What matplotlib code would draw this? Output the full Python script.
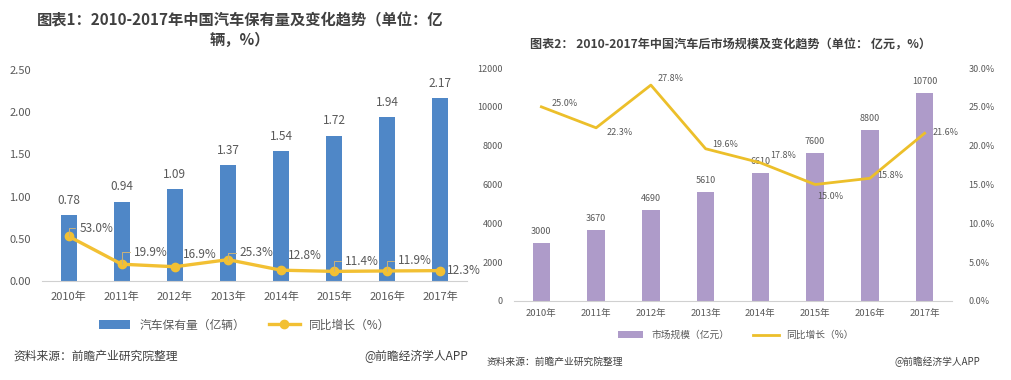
import numpy as np
import matplotlib
matplotlib.use("Agg")
import matplotlib.pyplot as plt

plt.rcParams["font.family"] = ["Noto Sans CJK SC", "DejaVu Sans"]

# ---------------------------------------------------------------------
# Data
# ---------------------------------------------------------------------
years = ["2010年", "2011年", "2012年", "2013年", "2014年", "2015年", "2016年", "2017年"]

# chart 1: vehicle stock (100 million) and growth (%)
stock = [0.78, 0.94, 1.09, 1.37, 1.54, 1.72, 1.94, 2.17]
stock_growth = [53.0, 19.9, 16.9, 25.3, 12.8, 11.4, 11.9, 12.3]
stock_ticks = [0.0, 0.5, 1.0, 1.5, 2.0, 2.5]

# chart 2: aftermarket size (100 million yuan) and growth (%)
market = [3000, 3670, 4690, 5610, 6610, 7600, 8800, 10700]
market_growth = [25.0, 22.3, 27.8, 19.6, 17.8, 15.0, 15.8, 21.6]
market_ticks = [0, 2000, 4000, 6000, 8000, 10000, 12000]
pct_ticks = [0, 5, 10, 15, 20, 25, 30]

W, H = 1012, 380
fig = plt.figure(figsize=(W / 100, H / 100), dpi=100)
fig.patch.set_facecolor("white")

GRAY = "#595959"
BLUE = "#4f87c7"
YELLOW = "#f2c033"
PURPLE = "#ae9bc9"
GOLD = "#ecbf2a"


def box(x0, y0, x1, y1):
    # pixel box (top-left origin) -> figure fraction rect
    return [x0 / W, 1 - y1 / H, (x1 - x0) / W, (y1 - y0) / H]


def clean(ax):
    for s in ["top", "right", "left"]:
        ax.spines[s].set_visible(False)
    ax.spines["bottom"].set_color("#d0d0d0")
    ax.tick_params(length=0)


x = np.arange(len(years))

# ---------------------------------------------------------------------
# Chart 1
# ---------------------------------------------------------------------
ax1 = fig.add_axes(box(42, 70, 467, 281))
ax1.bar(x, stock, width=0.3, color=BLUE, label="汽车保有量（亿辆）", zorder=2)
ax1.set_xlim(-0.5, len(years) - 0.5)
ax1.set_ylim(0, 2.5)
ax1.set_yticks(stock_ticks)
ax1.set_yticklabels([f"{v:.2f}" for v in stock_ticks], fontsize=8, color=GRAY)
ax1.set_xticks(x)
ax1.set_xticklabels(years, fontsize=8, color=GRAY)
ax1.tick_params(axis="x", pad=8)
ax1.tick_params(axis="y", pad=8)
clean(ax1)
for xi, v in zip(x, stock):
    ax1.annotate(f"{v:.2f}", (xi, v), xytext=(0, 6), textcoords="offset points",
                 ha="center", va="bottom", fontsize=8.5, color=GRAY)

ax1b = ax1.twinx()
ax1b.set_ylim(0, 250)
ax1b.axis("off")
ax1b.plot(x, stock_growth, color=YELLOW, lw=2.4, marker="o", ms=6,
          label="同比增长（%）", zorder=3)
# label offsets in pixels (dx, dy up); leader only where the reference has one
offs1 = [(11, 8), (12, 12), (8, 12), (12, 7), (7, 15), (11, 10), (11, 10), (7, 0)]
leader1 = [True, True, False, True, False, True, True, False]
for xi, v, (dx, dy), ld in zip(x, stock_growth, offs1, leader1):
    ax1b.annotate(f"{v:.1f}%", (xi, v), xytext=(dx * 0.72, dy * 0.72),
                  textcoords="offset points", ha="left", va="center",
                  fontsize=8.5, color=GRAY,
                  arrowprops=dict(arrowstyle="-", color="#c9b27a", lw=0.7,
                                  shrinkA=1, shrinkB=0,
                                  connectionstyle="angle,angleA=0,angleB=90,rad=0") if ld else None)

h1, l1 = ax1.get_legend_handles_labels()
h2, l2 = ax1b.get_legend_handles_labels()
fig.legend(h1 + h2, l1 + l2, loc="center", bbox_to_anchor=(245 / W, 1 - 325 / H),
           ncol=2, frameon=False, fontsize=8.5, labelcolor=GRAY,
           handlelength=2.6, handleheight=0.7, columnspacing=2.0)

fig.text(240 / W, 1 - 20 / H, "图表1：2010-2017年中国汽车保有量及变化趋势（单位：亿",
         ha="center", va="center", fontsize=11, fontweight="bold", color="#404040")
fig.text(240 / W, 1 - 40 / H, "辆，%）",
         ha="center", va="center", fontsize=11, fontweight="bold", color="#404040")
fig.text(13 / W, 1 - 356 / H, "资料来源：前瞻产业研究院整理",
         ha="left", va="center", fontsize=8.5, color="#404040", style="italic")
fig.text(468 / W, 1 - 356 / H, "@前瞻经济学人APP",
         ha="right", va="center", fontsize=8.5, color="#404040")

# ---------------------------------------------------------------------
# Chart 2
# ---------------------------------------------------------------------
ax2 = fig.add_axes(box(514, 68, 952, 301))
ax2.bar(x, market, width=0.32, color=PURPLE, label="市场规模（亿元）", zorder=2)
ax2.set_xlim(-0.5, len(years) - 0.5)
ax2.set_ylim(0, 12000)
ax2.set_yticks(market_ticks)
ax2.set_yticklabels([str(v) for v in market_ticks], fontsize=6.5, color=GRAY)
ax2.set_xticks(x)
ax2.set_xticklabels(years, fontsize=6.8, color=GRAY)
ax2.tick_params(axis="x", pad=6)
ax2.tick_params(axis="y", pad=8)
clean(ax2)
for xi, v in zip(x, market):
    ax2.annotate(str(v), (xi, v), xytext=(0, 5), textcoords="offset points",
                 ha="center", va="bottom", fontsize=6.5, color=GRAY)

ax2b = ax2.twinx()
ax2b.set_ylim(0, 30)
ax2b.set_yticks(pct_ticks)
ax2b.set_yticklabels([f"{v:.1f}%" for v in pct_ticks], fontsize=6.5, color=GRAY)
ax2b.tick_params(length=0, pad=12)
for s in ["top", "right", "left", "bottom"]:
    ax2b.spines[s].set_visible(False)
ax2b.plot(x, market_growth, color=GOLD, lw=2.0, label="同比增长（%）", zorder=3)
offs2 = [(10, 3), (10, -5), (7, 7), (7, 4), (10, 7), (2, -12), (7, 3), (8, 1)]
for xi, v, (dx, dy) in zip(x, market_growth, offs2):
    ax2b.annotate(f"{v:.1f}%", (xi, v), xytext=(dx * 0.72, dy * 0.72),
                  textcoords="offset points", ha="left", va="center",
                  fontsize=6.5, color=GRAY)

h1, l1 = ax2.get_legend_handles_labels()
h2, l2 = ax2b.get_legend_handles_labels()
fig.legend(h1 + h2, l1 + l2, loc="center", bbox_to_anchor=(736 / W, 1 - 335 / H),
           ncol=2, frameon=False, fontsize=7, labelcolor=GRAY,
           handlelength=2.6, handleheight=0.6, columnspacing=2.5)

fig.text(730 / W, 1 - 45 / H, "图表2： 2010-2017年中国汽车后市场规模及变化趋势（单位： 亿元，%）",
         ha="center", va="center", fontsize=8.7, fontweight="bold", color="#404040")
fig.text(487 / W, 1 - 362 / H, "资料来源：前瞻产业研究院整理",
         ha="left", va="center", fontsize=7, color="#404040", style="italic")
fig.text(980 / W, 1 - 362 / H, "@前瞻经济学人APP",
         ha="right", va="center", fontsize=7, color="#404040")

fig.savefig("out.png", dpi=100, facecolor="white")
